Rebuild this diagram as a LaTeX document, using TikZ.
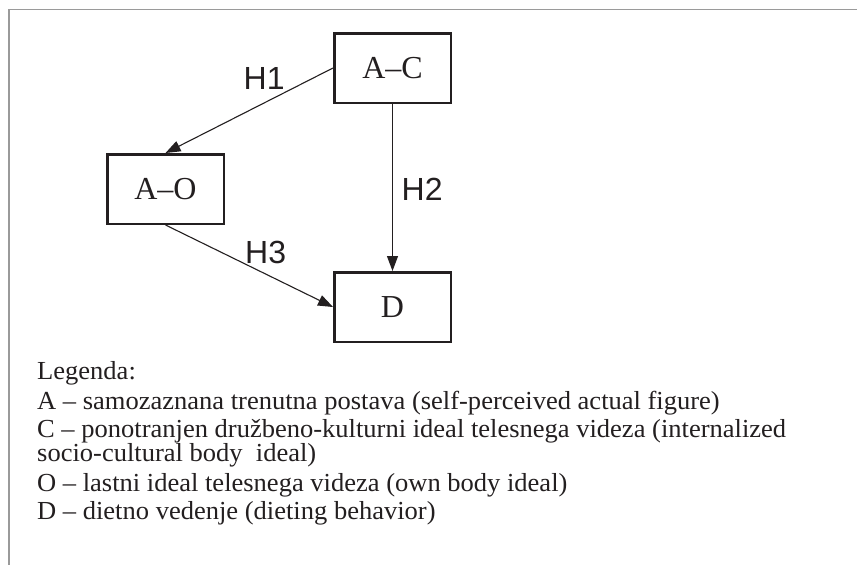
\documentclass[tikz,border=0pt]{standalone}
\usepackage{fontspec}
\setmainfont{Liberation Serif}
\newfontfamily\hfont{Liberation Sans}
\newfontfamily\legfont[FakeStretch=1.02]{Liberation Serif}
\usetikzlibrary{arrows.meta}
\definecolor{ink}{HTML}{231F20}
\definecolor{framegray}{HTML}{9A9A9A}
\begin{document}
\begin{tikzpicture}[x=1pt,y=-1pt,
  box/.style={draw=ink, line width=2.5pt, minimum width=116.5pt, minimum height=69.5pt, inner sep=0pt, font=\fontsize{32}{32}\selectfont, text=ink},
  conn/.style={draw=ink, line width=1.1pt, -{Triangle[length=15pt,width=11pt]}},
  hlab/.style={font=\hfont\fontsize{32}{32}\selectfont, text=ink, inner sep=0pt, anchor=base west},
  leg/.style={font=\legfont\fontsize{26}{26}\selectfont, text=ink, inner sep=0pt, anchor=base west},
  frame/.style={draw=framegray, line width=1.3pt}]
\useasboundingbox (0,0) rectangle (857,565);
\fill[white] (0,0) rectangle (857,565);
% frame
\coordinate (fbl) at (9,566);
\coordinate (ftl) at (9,9.3);
\coordinate (ftr) at (858,9.3);
\draw[frame] (fbl) -- (ftl) -- (ftr);
% boxes
\node[box] (ac) at (392.5,68) {A–C};
\node[box] (ao) at (165.5,189) {A–O};
\node[box] (d) at (392.5,307) {D};
% connectors
\draw[conn] (ac.west) -- (ao.north);
\draw[conn] (ac.south) -- (d.north);
\draw[conn] (ao.south) -- (d.west);
% labels
\node[hlab] (h1) at (243.5,89) {H1};
\node[hlab] (h2) at (401.5,200) {H2};
\node[hlab] (h3) at (245,263) {H3};
% legend
\node[leg] (l0) at (37,379) {Legenda:};
\node[leg] (l1) at (37,409) {A – samozaznana trenutna postava (self-perceived actual figure)};
\node[leg] (l2) at (37,437) {C – ponotranjen družbeno-kulturni ideal telesnega videza (internalized};
\node[leg] (l3) at (37,461) {socio-cultural body\ \ ideal)};
\node[leg] (l4) at (37,491) {O – lastni ideal telesnega videza (own body ideal)};
\node[leg] (l5) at (37,519) {D – dietno vedenje (dieting behavior)};
\end{tikzpicture}
\end{document}
